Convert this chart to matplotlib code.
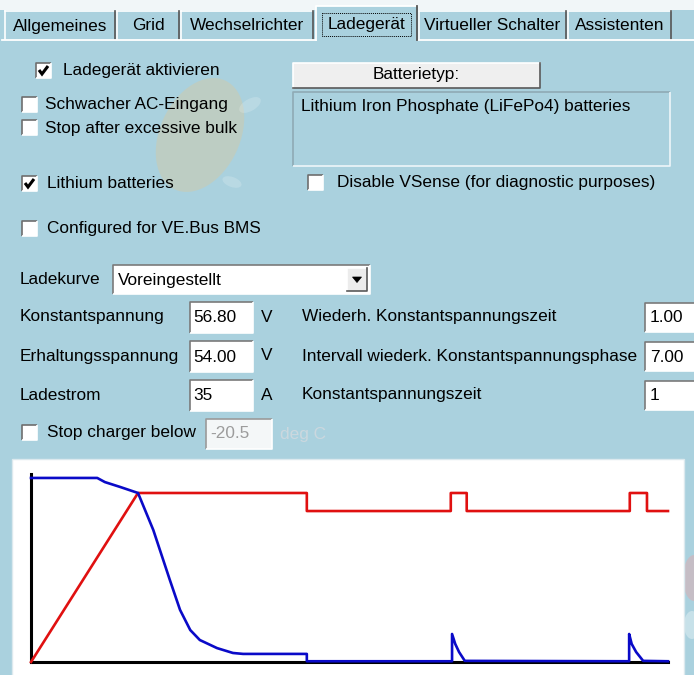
import matplotlib
matplotlib.use("Agg")
import matplotlib.pyplot as plt
from matplotlib.patches import Rectangle, Ellipse, Polygon

# Reiter
tab_labels = ["Allgemeines", "Grid", "Wechselrichter", "Ladegerät", "Virtueller Schalter", "Assistenten"]
active_tab = "Ladegerät"

# Checkboxen (Text, angehakt)
check_labels = ["Ladegerät aktivieren", "Schwacher AC-Eingang", "Stop after excessive bulk",
                "Lithium batteries", "Disable VSense (for diagnostic purposes)", "Configured for VE.Bus BMS"]
check_states = [True, False, False, True, False, False]

battery_button = "Batterietyp:"
battery_type = "Lithium Iron Phosphate (LiFePo4) batteries"
curve_label = "Ladekurve"
curve_value = "Voreingestellt"

# Spannungen / Strom
param_labels = ["Konstantspannung", "Erhaltungsspannung", "Ladestrom"]
param_values = ["56.80", "54.00", "35"]
param_units = ["V", "V", "A"]

# Zeiten
timer_labels = ["Wiederh. Konstantspannungszeit", "Intervall wiederk. Konstantspannungsphase",
                "Konstantspannungszeit"]
timer_values = ["1.00", "7.00", "1"]

stop_label = "Stop charger below"
stop_value = "-20.5"
stop_unit = "deg C"

# Ladekurve (Zeit 0..100, Pegel 0..100)
volt_t = [0, 16.8, 43.3, 43.3, 65.9, 65.9, 68.4, 68.4, 94.0, 94.0, 96.7, 96.7, 100]
volt_v = [0, 89.9, 89.9, 80.3, 80.3, 89.9, 89.9, 80.3, 80.3, 89.9, 89.9, 80.3, 80.3]
curr_t = [0, 10.4, 11.6, 14.0, 16.8, 19.2, 21.8, 23.4, 25.0, 26.5, 29.2, 31.7, 33.3, 43.3, 43.3,
          66.1, 66.1, 66.6, 67.2, 68.1, 93.9, 93.9, 94.3, 95.0, 96.1, 100]
curr_v = [97.9, 97.9, 95.7, 93.1, 89.9, 70.2, 43.6, 27.7, 17.0, 11.7, 7.4, 4.8, 4.3, 4.3, 0.4,
          0.4, 14.9, 9.6, 5.3, 0.6, 0.4, 14.9, 9.6, 5.3, 0.6, 0.4]

W, H = 694, 675
BG = "#AAD1DE"
FS = 12.4
FONT = "Liberation Sans"

fig = plt.figure(figsize=(W / 100, H / 100), dpi=100)
fig.patch.set_facecolor(BG)
ax = fig.add_axes([0, 0, 1, 1])
ax.set_xlim(0, W)
ax.set_ylim(H, 0)
ax.axis("off")


def label(x, y, s, color="black", ha="left"):
    ax.text(x, y, s, fontsize=FS, family=FONT, color=color, va="center", ha=ha)


def sunken(x0, y0, x1, y1, face="white", dark="#7A7A7A", light="white"):
    ax.add_patch(Rectangle((x0, y0), x1 - x0, y1 - y0, facecolor=face, edgecolor="none"))
    ax.plot([x0, x0, x1], [y1, y0, y0], color=dark, lw=1.2, solid_capstyle="butt")
    ax.plot([x0, x1, x1], [y1, y1, y0], color=light, lw=1.2, solid_capstyle="butt")


def raised(x0, y0, x1, y1, face="#EFEFEF"):
    ax.add_patch(Rectangle((x0, y0), x1 - x0, y1 - y0, facecolor=face, edgecolor="none"))
    ax.plot([x0, x0, x1], [y1, y0, y0], color="white", lw=1.2)
    ax.plot([x0, x1, x1], [y1, y1, y0], color="#5A5A5A", lw=1.2)


def checkbox(x, y, checked):
    sunken(x, y - 8, x + 15, y + 7, dark="#6E6E6E")
    if checked:
        ax.plot([x + 3, x + 6, x + 12], [y - 1, y + 3, y - 5], color="black", lw=2.2,
                solid_capstyle="butt", solid_joinstyle="miter")


# Wasserzeichen im Hintergrund
ax.add_patch(Ellipse((200, 135), 80, 120, angle=25, facecolor="#E6C78C", alpha=0.32, edgecolor="none"))
ax.add_patch(Ellipse((250, 105), 24, 12, angle=-30, facecolor="white", alpha=0.18, edgecolor="none"))
ax.add_patch(Ellipse((232, 182), 20, 10, angle=20, facecolor="white", alpha=0.18, edgecolor="none"))
ax.add_patch(Ellipse((694, 578), 22, 46, facecolor="#E8A6A8", alpha=0.45, edgecolor="none"))
ax.add_patch(Ellipse((692, 625), 16, 28, facecolor="white", alpha=0.35, edgecolor="none"))

# Reiterleiste
ax.add_patch(Rectangle((0, 0), W, 10, facecolor="#F1F6F8", edgecolor="none"))
tab_edges = [(4, 116), (116, 180), (180, 314), (316, 418), (418, 567), (567, 672)]
for name, (x0, x1) in zip(tab_labels, tab_edges):
    if name == active_tab:
        ax.add_patch(Rectangle((x0, 6), x1 - x0, 34, facecolor=BG, edgecolor="none", zorder=3))
        ax.plot([x0, x0, x1 - 1], [40, 6, 6], color="white", lw=1.3, zorder=4)
        ax.plot([x1 - 1, x1 - 1], [6, 40], color="#555555", lw=1.3, zorder=4)
        ax.add_patch(Rectangle((x0 + 6, 13), x1 - x0 - 13, 23, facecolor="none", edgecolor="black",
                               lw=0.7, linestyle=(0, (1, 1)), zorder=4))
        ax.text((x0 + x1) / 2, 24, name, fontsize=FS, family=FONT, va="center", ha="center", zorder=5)
    else:
        ax.plot([x0 + 1, x0 + 1], [39, 11], color="white", lw=1.2)
        ax.plot([x0 + 1, x1 - 1], [11, 11], color="white", lw=1.2)
        ax.plot([x1 - 1, x1 - 1], [11, 39], color="#555555", lw=1.2)
        label((x0 + x1) / 2, 26, name, ha="center")
ax.plot([2, 316], [39.5, 39.5], color="white", lw=1.3)
ax.plot([418, W], [39.5, 39.5], color="white", lw=1.3)

# Checkboxen
check_pos = [(36, 71, 63), (22, 105, 45), (22, 128, 45), (22, 184, 47), (308, 183, 337), (22, 229, 47)]
for text, state, (bx, by, tx) in zip(check_labels, check_states, check_pos):
    checkbox(bx, by, state)
    label(tx, by, text)

# Batterietyp
raised(293, 63, 540, 88)
label(416, 75, battery_button, ha="center")
sunken(293, 92, 670, 166, face="none", dark="#8FAAB4", light="#EEF6F9")
label(301, 107, battery_type)

# Ladekurve-Auswahl
label(20, 280, curve_label)
sunken(113, 265, 370, 294)
label(118, 280, curve_value)
raised(347, 268, 367, 291, face="#ECECEC")
ax.add_patch(Polygon([(352.5, 277), (361.5, 277), (357, 282.5)], closed=True, facecolor="black",
                     edgecolor="black", lw=0.5))

# Parameterzeilen
row_y = [317, 356, 395]
for name, val, unit, tname, tval, y in zip(param_labels, param_values, param_units,
                                           timer_labels, timer_values, row_y):
    label(20, y, name)
    sunken(190, y - 15, 253, y + 16)
    label(193, y + 1, val)
    label(261, y, unit)
    label(302, y, tname)
    sunken(645, y - 14, 700, y + 15)
    label(650, y + 1, tval)

# Temperaturabschaltung
checkbox(22, 433, False)
label(47, 433, stop_label)
sunken(206, 419, 272, 449, face="#F4F7F8", dark="#9A9A9A")
label(210, 434, stop_value, color="#9C9C9C")
label(280, 434, stop_unit, color="#CBD8DE")

# Vorschau der Ladekurve
ax.add_patch(Rectangle((12, 459), 672, 220, facecolor="white", edgecolor="#DCE9EE", lw=1))

cx = fig.add_axes([31 / W, (H - 662) / H, 637 / W, 188 / H])
cx.set_xlim(0, 100)
cx.set_ylim(0, 100)
cx.patch.set_alpha(0)
cx.set_xticks([])
cx.set_yticks([])
for side in ["top", "right"]:
    cx.spines[side].set_visible(False)
for side in ["left", "bottom"]:
    cx.spines[side].set_linewidth(2.2)
    cx.spines[side].set_color("black")
cx.plot(volt_t, volt_v, color="#E01010", lw=1.9, clip_on=False, zorder=3)
cx.plot(curr_t, curr_v, color="#0A0AC8", lw=1.9, clip_on=False, zorder=4)

fig.savefig("out.png", dpi=100, facecolor=BG)
